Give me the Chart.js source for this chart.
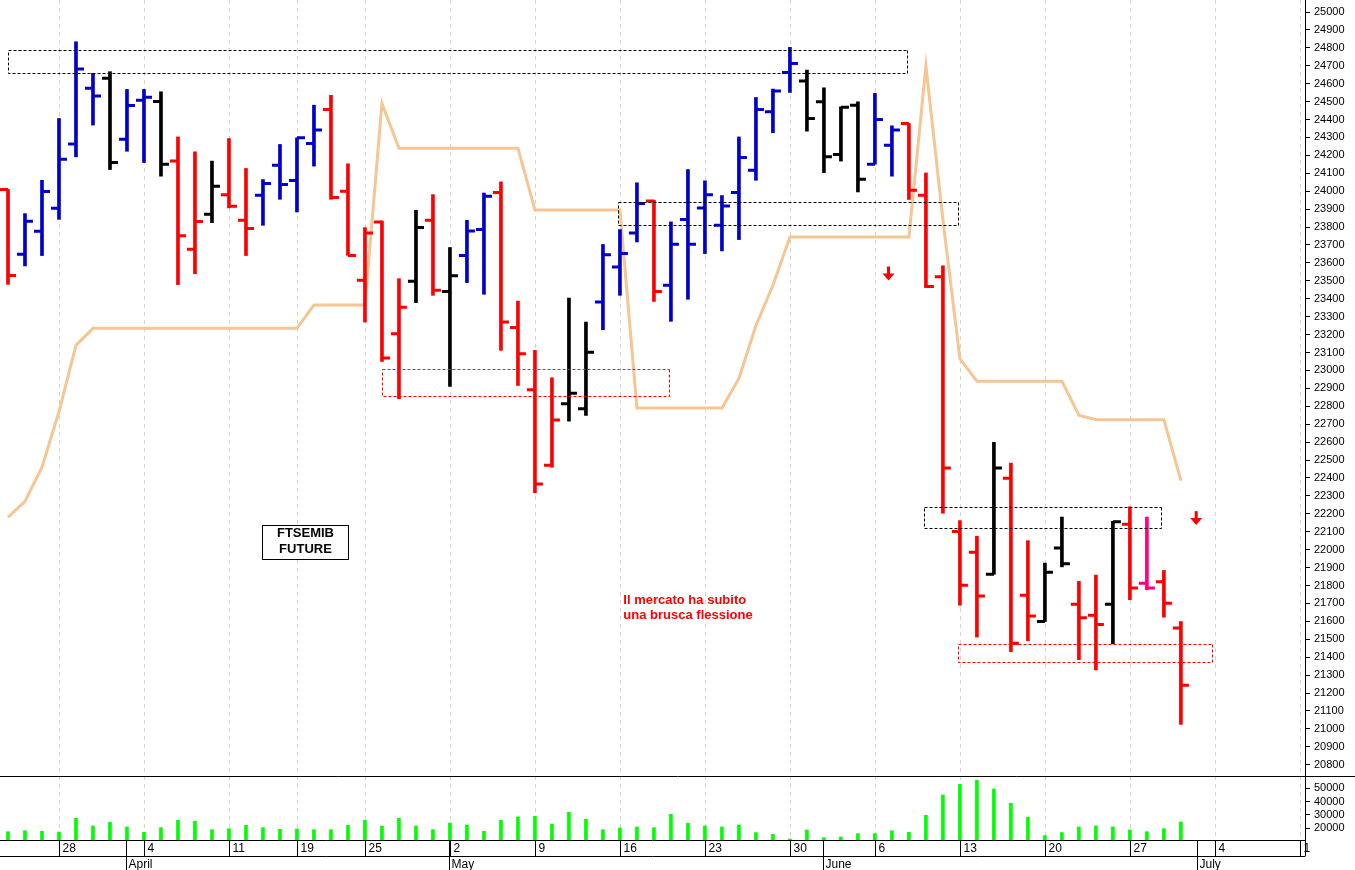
<!DOCTYPE html>
<html><head><meta charset="utf-8">
<script src="https://cdn.jsdelivr.net/npm/chart.js@4.4.1/dist/chart.umd.min.js"></script>
<style>
body{margin:0;background:#fff;width:1355px;height:870px;overflow:hidden;position:relative;font-family:"Liberation Sans",Arial,sans-serif}
#priceBox{position:absolute;left:0;top:0;width:1355px;height:776px}
#volBox{position:absolute;left:0;top:776px;width:1355px;height:94px}
</style></head><body>
<div id="priceBox"><canvas id="priceChart"></canvas></div>
<div id="volBox"><canvas id="volChart"></canvas></div>
<script>
// daily bars, index 0 = first visible session
const opens  = [24010,23648,23777,23905,24263,24575,24630,24290,24508,24501,24168,23676,23872,23981,23838,23978,24145,24060,24266,24456,
                24000,23503,23828,23205,23497,23838,23440,23641,23786,23993,23240,22892,22471,22814,22786,23382,23577,23767,23946,23475,
                23842,23907,23810,23993,24117,24443,24663,24615,24499,24205,24480,24151,24257,24378,23978,23523,22101,21986,21863,22399,
                21746,21599,22009,21695,21634,21695,22142,21813,21821,21563];
const highs  = [24010,23875,24061,24406,24834,24658,24667,24568,24568,24555,24303,24220,24168,24294,24127,24065,24261,24298,24480,24535,
                24153,23797,23834,23512,23894,23981,23686,23838,23990,24052,23387,23112,22959,23404,23270,23703,23786,24047,23950,23829,
                24121,24058,23976,24303,24523,24570,24803,24676,24577,24471,24499,24546,24365,24378,24102,23584,22162,22075,22599,22483,
                22050,21925,22182,21823,21858,22158,22239,22182,21884,21599];
const lows   = [23480,23583,23641,23843,24192,24369,24121,24223,24160,24084,23479,23540,23825,23907,23641,23810,23955,23884,24140,23955,
                23642,23270,23050,22842,23378,23419,22911,23490,23425,23112,22916,22318,22460,22717,22749,23227,23419,23717,23385,23274,
                23397,23652,23667,23730,24061,24326,24551,24335,24104,24168,23996,24151,24084,23954,23462,22203,21690,21512,21863,21431,
                21492,21599,21904,21386,21329,21475,21721,21776,21623,21025];
const closes = [23530,23832,23998,24179,24682,24531,24160,24479,24525,24151,23752,23831,24028,23916,23792,24043,24037,24298,24341,23965,
                23642,23767,23069,23352,23797,23447,23529,23778,23972,23270,23093,22367,22724,22873,23102,23646,23652,23931,23440,23704,
                23704,23981,23918,24188,24456,24559,24713,24406,24192,24468,24067,24400,24341,24006,23469,22456,21802,21741,22456,21478,
                21630,21874,21922,21620,21583,22156,21786,21786,21701,21244];
const barColors = 'rbbbbbkbbkrrkrrbbbbrrrrrkrkbbrrrrkkbbbrbbbbbbbbkkkkbbrrrrrkrrkkrrkrprr'.split('');
const volumes = [17440,18200,17740,17220,27520,21730,24500,20980,16990,20450,26000,25260,18950,19700,22250,20450,19250,19470,18950,18950,
                 22250,26000,21730,27520,21730,18950,24000,22480,17740,26000,28500,29000,23240,32000,26760,18950,20230,20980,20450,30500,
                 23760,21730,20980,22480,16740,15490,11950,18720,12950,13460,15980,15980,18200,16990,29770,45000,53080,56090,49550,38800,
                 28270,14470,16740,20980,21730,20980,18720,17440,19700,24740];
const bandLine = [22180,22270,22460,22770,23140,23235,23235,23235,23235,23235,23235,23235,23235,23235,23235,23235,23235,23235,23365,23365,
                  23365,23365,24490,24240,24240,24240,24240,24240,24240,24240,24240,23895,23895,23895,23895,23895,23895,22790,22790,22790,
                  22790,22790,22790,22955,23250,23475,23745,23745,23745,23745,23745,23745,23745,23745,24700,23840,23065,22940,22940,22940,
                  22940,22940,22940,22750,22725,22725,22725,22725,22725,22385];
// axis labels
const dayTicks   = [3,8,13,17,21,26,31,36,41,46,51,56,61,66,71,76];
const dayLabels  = ['28','4','11','19','25','2','9','16','23','30','6','13','20','27','4','1'];
const monthTicks = [7,26,48,70];
const monthLabels= ['April','May','June','July'];
const priceTicks = Array.from({length: 43}, (_, k) => 20800 + k * 100);
const volTicks   = [20000,30000,40000,50000];
// annotations in data units: [x0, x1, yTop, yBottom]
const boxes = [
    {r: [0, 52.9, 24790, 24660], top: '#000', rest: '#000'},
    {r: [35.9, 55.9, 23939, 23810], top: '#000', rest: '#000'},
    {r: [22, 38.9, 23006, 22855], top: '#090', rest: '#f00'},
    {r: [53.9, 67.8, 22240, 22123], top: '#000', rest: '#000'},
    {r: [55.9, 70.8, 21472, 21374], top: '#f00', rest: '#f00'}
];
const arrows = [[51.8, 23580], [69.9, 22215]];

const colorMap = {r: '#ff0000', b: '#0000cc', k: '#000000', p: '#ff0080'};
const XMIN = -0.47, XMAX = 76.3;
const idx = opens.map((_, i) => i);

const dashedGrid = {
    id: 'dashedGrid',
    beforeDatasetsDraw(chart) {
        const {ctx, chartArea: a, scales: {x}} = chart;
        ctx.save();
        ctx.strokeStyle = '#d4d4d4';
        ctx.lineWidth = 1;
        ctx.setLineDash([4, 4]);
        dayTicks.forEach(t => {
            const px = Math.round(x.getPixelForValue(t)) + 0.5;
            ctx.beginPath(); ctx.moveTo(px, a.top); ctx.lineTo(px, a.bottom); ctx.stroke();
        });
        ctx.restore();
    }
};

const ohlcTicks = {
    id: 'ohlcTicks',
    afterDatasetsDraw(chart) {
        const {ctx, chartArea: a, scales: {x, y}} = chart;
        ctx.save();
        ctx.lineWidth = 3;
        idx.forEach(i => {
            const px = x.getPixelForValue(i);
            ctx.strokeStyle = colorMap[barColors[i]];
            ctx.beginPath();
            ctx.moveTo(px - 8, y.getPixelForValue(opens[i])); ctx.lineTo(px, y.getPixelForValue(opens[i]));
            ctx.moveTo(px, y.getPixelForValue(closes[i])); ctx.lineTo(px + 8, y.getPixelForValue(closes[i]));
            ctx.stroke();
        });
        // dashed boxes
        ctx.lineWidth = 1;
        ctx.setLineDash([3, 2]);
        boxes.forEach(b => {
            const x0 = Math.round(x.getPixelForValue(b.r[0])) + 0.5, x1 = Math.round(x.getPixelForValue(b.r[1])) + 0.5;
            const y0 = Math.round(y.getPixelForValue(b.r[2])) + 0.5, y1 = Math.round(y.getPixelForValue(b.r[3])) + 0.5;
            ctx.strokeStyle = b.top;
            ctx.beginPath(); ctx.moveTo(x0, y0); ctx.lineTo(x1, y0); ctx.stroke();
            ctx.strokeStyle = b.rest;
            ctx.beginPath(); ctx.moveTo(x1, y0); ctx.lineTo(x1, y1); ctx.lineTo(x0, y1); ctx.lineTo(x0, y0); ctx.stroke();
        });
        ctx.setLineDash([]);
        // arrows
        ctx.fillStyle = '#ff0000';
        arrows.forEach(([ax, ay]) => {
            const px = x.getPixelForValue(ax), py = y.getPixelForValue(ay);
            ctx.fillRect(px - 1.5, py, 3, 8);
            ctx.beginPath(); ctx.moveTo(px - 6, py + 7); ctx.lineTo(px + 6, py + 7); ctx.lineTo(px, py + 14); ctx.closePath(); ctx.fill();
        });
        // texts
        const tx = x.getPixelForValue(17.5), ty = y.getPixelForValue(22045);
        ctx.font = 'bold 13px "Liberation Sans", Arial';
        ctx.textAlign = 'center'; ctx.textBaseline = 'middle';
        ctx.fillStyle = '#fff'; ctx.fillRect(tx - 43, ty - 17, 86, 34);
        ctx.strokeStyle = '#000'; ctx.lineWidth = 1; ctx.strokeRect(Math.round(tx - 43) + 0.5, Math.round(ty - 17) + 0.5, 86, 34);
        ctx.fillStyle = '#000';
        ctx.fillText('FTSEMIB', tx, ty - 8);
        ctx.fillText('FUTURE', tx, ty + 8);
        ctx.fillStyle = '#ff0000';
        ctx.textAlign = 'left';
        const rx = x.getPixelForValue(36.2);
        ctx.fillText('Il mercato ha subito', rx, y.getPixelForValue(21715));
        ctx.fillText('una brusca flessione', rx, y.getPixelForValue(21631));
        // right border
        ctx.strokeStyle = '#000'; ctx.lineWidth = 1;
        ctx.beginPath(); ctx.moveTo(a.right + 0.5, a.top); ctx.lineTo(a.right + 0.5, a.bottom + 1); ctx.stroke();
        ctx.restore();
    }
};

const tickFont = {family: '"Liberation Sans", Arial', size: 11};
const fitRight = s => { s.width = 50; s.paddingTop = 0; s.paddingBottom = 0; };

new Chart(document.getElementById('priceChart'), {
    type: 'bar',
    data: {
        datasets: [{
            type: 'line',
            data: idx.map(i => ({x: i, y: bandLine[i]})),
            borderColor: '#f5c592',
            borderWidth: 3,
            pointRadius: 0,
            tension: 0,
            order: 2
        }, {
            data: idx.map(i => ({x: i, y: [lows[i], highs[i]]})),
            backgroundColor: barColors.map(c => colorMap[c]),
            barThickness: 3,
            order: 1
        }]
    },
    options: {
        responsive: true,
        maintainAspectRatio: false,
        animation: false,
        layout: {padding: 0},
        plugins: {legend: {display: false}, tooltip: {enabled: false}},
        scales: {
            x: {type: 'linear', min: XMIN, max: XMAX, offset: false, display: false},
            y: {
                position: 'right',
                min: 20737, max: 25067,
                afterBuildTicks: s => { s.ticks = priceTicks.map(v => ({value: v})); },
                afterFit: fitRight,
                ticks: {font: tickFont, color: '#000', padding: 4, autoSkip: false, callback: v => String(v)},
                grid: {drawOnChartArea: false, tickLength: 5, color: '#000'},
                border: {display: false}
            }
        }
    },
    plugins: [dashedGrid, ohlcTicks]
});

const dateRow = {
    id: 'dateRow',
    afterDraw(chart) {
        const {ctx, chartArea: a, scales: {x}} = chart;
        ctx.save();
        ctx.strokeStyle = '#000'; ctx.lineWidth = 1;
        const yb = a.bottom + 0.5, ym = a.bottom + 16.5, ye = chart.height;
        ctx.beginPath();
        ctx.moveTo(0, a.top + 0.5); ctx.lineTo(a.right + 50, a.top + 0.5);
        ctx.moveTo(0, yb); ctx.lineTo(a.right, yb);
        ctx.moveTo(0, ym); ctx.lineTo(a.right, ym);
        ctx.moveTo(a.right + 0.5, a.top); ctx.lineTo(a.right + 0.5, ym);
        ctx.stroke();
        ctx.font = '12px "Liberation Sans", Arial';
        ctx.fillStyle = '#000'; ctx.textBaseline = 'middle'; ctx.textAlign = 'left';
        dayTicks.forEach((t, k) => {
            const px = Math.round(x.getPixelForValue(t)) + 0.5;
            ctx.beginPath(); ctx.moveTo(px, yb); ctx.lineTo(px, ym); ctx.stroke();
            ctx.fillText(dayLabels[k], px + 3, yb + 8.5);
        });
        monthTicks.forEach((t, k) => {
            const px = Math.round(x.getPixelForValue(t - 0.03)) + 0.5;
            ctx.beginPath(); ctx.moveTo(px, yb); ctx.lineTo(px, ye); ctx.stroke();
            ctx.fillText(monthLabels[k], px + 2, ym + 8);
        });
        ctx.restore();
    }
};

new Chart(document.getElementById('volChart'), {
    type: 'bar',
    data: {
        datasets: [{
            data: idx.map(i => ({x: i, y: volumes[i]})),
            backgroundColor: '#00ff00',
            barThickness: 3
        }]
    },
    options: {
        responsive: true,
        maintainAspectRatio: false,
        animation: false,
        layout: {padding: {top: 0, bottom: 30}},
        plugins: {legend: {display: false}, tooltip: {enabled: false}},
        scales: {
            x: {type: 'linear', min: XMIN, max: XMAX, offset: false, display: false},
            y: {
                position: 'right',
                min: 11200, max: 59300,
                afterBuildTicks: s => { s.ticks = volTicks.map(v => ({value: v})); },
                afterFit: fitRight,
                ticks: {font: tickFont, color: '#000', padding: 4, autoSkip: false, callback: v => String(v)},
                grid: {drawOnChartArea: false, tickLength: 5, color: '#000'},
                border: {display: false}
            }
        }
    },
    plugins: [dashedGrid, dateRow]
});
</script>
</body></html>
